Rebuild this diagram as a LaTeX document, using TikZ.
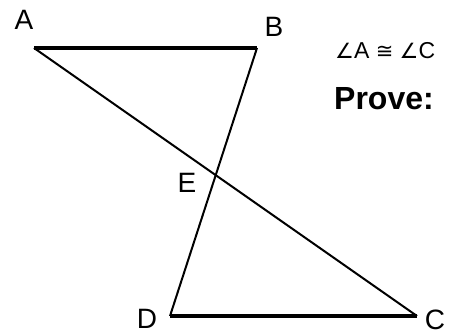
\documentclass[tikz,border=0pt]{standalone}
\usepackage{fontspec}
\setmainfont{Liberation Sans}
\newfontfamily\symfont{DejaVu Sans}
\usetikzlibrary{intersections}
\begin{document}
\begin{tikzpicture}[x=1pt,y=-1pt,
  lbl/.style={inner sep=0pt,font=\fontsize{28}{32}\selectfont},
  thick line/.style={line width=3.2pt},
  thin line/.style={line width=2pt}]
\useasboundingbox (0,0) rectangle (451,336);
\coordinate (A) at (34,48);
\coordinate (B) at (257,48);
\coordinate (D) at (170,316);
\coordinate (C) at (417,316);
\draw[thick line] (A) -- (B);
\draw[thick line] (D) -- (C);
\draw[thin line, name path=ac] (A) -- (C);
\draw[thin line, name path=bd] (B) -- (D);
\path[name intersections={of=ac and bd, by=E}];
\node[lbl] (lA) at (24,20) {A};
\node[lbl] (lB) at (274,27) {B};
\node[lbl] (lE) at (187,183) {E};
\node[lbl] (lD) at (147,319) {D};
\node[lbl] (lC) at (435,320) {C};
\node[inner sep=0pt, anchor=base west, font=\fontsize{23}{26}\selectfont] (given) at (335,59) {{\symfont\fontsize{21}{26}\selectfont∠}A {\symfont\fontsize{21}{26}\selectfont≅} {\symfont\fontsize{21}{26}\selectfont∠}C};
\node[inner sep=0pt, anchor=base west, font=\fontsize{32}{36}\selectfont\bfseries] (prove) at (334,110) {Prove:};
\end{tikzpicture}
\end{document}
